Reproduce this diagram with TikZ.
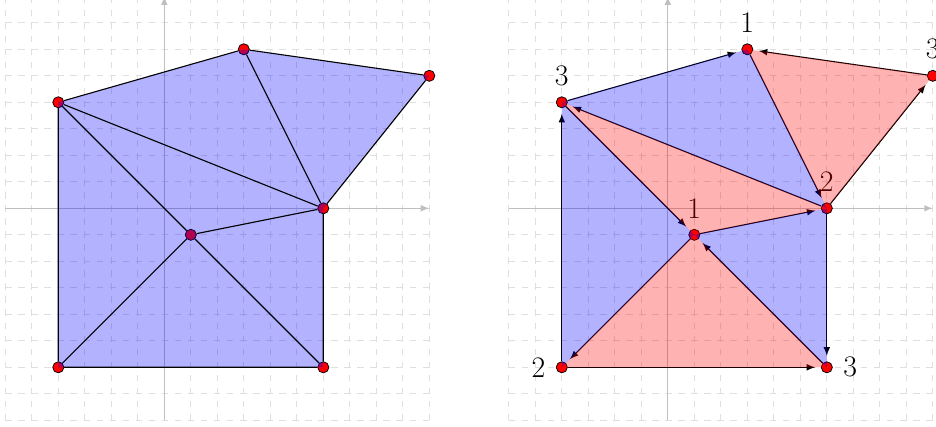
\documentclass[tikz,border=0pt]{standalone}
\usetikzlibrary{arrows}

\begin{document}
\begin{tikzpicture}[>=latex,
        vert/.style={circle, fill=red, draw=black, inner sep=0pt, minimum size=2.1mm},
        every label/.style={font=\fontsize{16}{19}\selectfont, inner sep=5.5pt},
        gridline/.style={gray!25, dash pattern=on 3.5pt off 3.5pt},
        axis/.style={gray!50, line width=0.6pt, ->}]
        \useasboundingbox (-3.1,-4.12) rectangle (14.56,3.93);

        % Grid
        \draw[gridline, step=0.5] (-3,-4) grid (5,4);
        \draw[gridline, step=0.5, xshift=9.5cm] (-3,-4) grid (5,4);

        % Axes
        \draw[axis] (-3,0) -- (5,0);
        \draw[axis] (0,-4) -- (0,4);
        \draw[axis] (6.5,0) -- (14.5,0);
        \draw[axis] (9.5,-4) -- (9.5,4);

        % Points (left)
        \node[vert] (a) at (-2,2) {};
        \node[vert] (b) at (1.5,3) {};
        \node[vert] (c) at (5,2.5) {};
        \node[vert] (d) at (3,0) {};
        \node[vert] (e) at (0.5,-0.5) {};
        \node[vert] (f) at (-2,-3) {};
        \node[vert] (g) at (3,-3) {};

        % Triangles (left)
        \foreach \p/\q/\r in {a/b/d, b/c/d, a/d/e, a/e/f, e/f/g, e/d/g}
            \fill[blue, opacity=0.3] (\p.center) -- (\q.center) -- (\r.center) -- cycle;

        % Edges (left)
        \draw[semithick] (a) -- (b) -- (c) -- (d) -- (g) -- (f) -- (a);
        \draw[semithick] (a) -- (d);
        \draw[semithick] (b) -- (d);
        \draw[semithick] (a) -- (e) -- (d);
        \draw[semithick] (f) -- (e) -- (g);

        \begin{scope}[xshift=9.5cm]
            % Points (right)
            \node[vert, label=above:3] (ra) at (-2,2) {};
            \node[vert, label=above:1] (rb) at (1.5,3) {};
            \node[vert, label=above:3] (rc) at (5,2.5) {};
            \node[vert, label=above:2] (rd) at (3,0) {};
            \node[vert, label=above:1] (re) at (0.5,-0.5) {};
            \node[vert, label=left:2] (rf) at (-2,-3) {};
            \node[vert, label=right:3] (rg) at (3,-3) {};

            % Oriented edges
            \foreach \s/\t in {ra/rb, rc/rb, rb/rd, rd/rc, rd/ra, ra/re,
                               re/rd, rf/ra, re/rf, rf/rg, rg/re, rd/rg}
                \draw[semithick, ->, shorten >=3pt] (\s) -- (\t);

            % Triangles (right)
            \foreach \p/\q/\r in {ra/rb/rd, ra/re/rf, re/rd/rg}
                \fill[blue, opacity=0.3] (\p.center) -- (\q.center) -- (\r.center) -- cycle;
            \foreach \p/\q/\r in {rb/rc/rd, ra/rd/re, re/rf/rg}
                \fill[red, opacity=0.3] (\p.center) -- (\q.center) -- (\r.center) -- cycle;
        \end{scope}
    \end{tikzpicture}
\end{document}
